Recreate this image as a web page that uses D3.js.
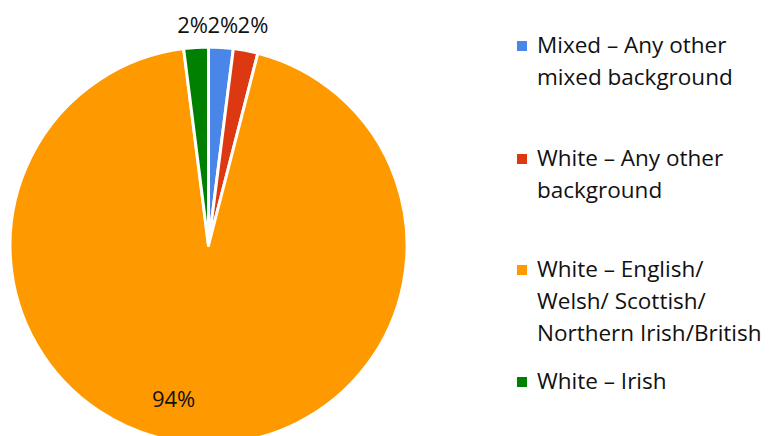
<!DOCTYPE html>
<html>
<head>
<meta charset="utf-8">
<script src="https://cdn.jsdelivr.net/npm/d3@7"></script>
<style>
  html, body { margin: 0; padding: 0; background: #fff; }
  svg { display: block; }
  text { font-family: "Open Sans", Lato, sans-serif; fill: #111; }
</style>
</head>
<body>
<svg id="chart" width="771" height="436"></svg>
<script>
// Ethnicity breakdown (percent of respondents)
const categories = [
  "Mixed – Any other mixed background",
  "White – Any other background",
  "White – English/ Welsh/ Scottish/ Northern Irish/British",
  "White – Irish"
];
const values = [2, 2, 94, 2];
const colors = ["#4a86e8", "#dc3912", "#ff9900", "#008000"];
// Legend text, broken into lines as wrapped in the legend column
const legendLines = [
  ["Mixed – Any other", "mixed background"],
  ["White – Any other", "background"],
  ["White – English/", "Welsh/ Scottish/", "Northern Irish/British"],
  ["White – Irish"]
];

const svg = d3.select("#chart");
const cx = 208.5, cy = 245.5, radius = 198.5;

const pie = d3.pie().sort(null).value(d => d)(values);
const arc = d3.arc().innerRadius(0).outerRadius(radius);

const g = svg.append("g").attr("transform", `translate(${cx},${cy})`);

g.selectAll("path.slice")
  .data(pie)
  .join("path")
  .attr("class", "slice")
  .attr("d", arc)
  .attr("fill", (d, i) => colors[i])
  .attr("stroke", "#fff")
  .attr("stroke-width", 3)
  .attr("stroke-linejoin", "round");

// Percent labels: small slices labelled above the pie, large slice inside
const fmt = v => Math.round(v) + "%";
const total = d3.sum(values);
const labelX = d3.scalePoint().domain([3, 0, 1]).range([-16, 44.5]);

pie.forEach((d, i) => {
  const pct = fmt(d.data / total * 100);
  if (d.data / total < 0.1) {
    g.append("text")
      .attr("x", labelX(i))
      .attr("y", -radius - 14.5)
      .attr("text-anchor", "middle")
      .attr("font-size", 22)
      .text(pct);
  } else {
    const a = 192.7 * Math.PI / 180;
    const rr = radius * 0.8;
    g.append("text")
      .attr("x", rr * Math.sin(a))
      .attr("y", -rr * Math.cos(a) + 7)
      .attr("text-anchor", "middle")
      .attr("font-size", 22)
      .text(pct);
  }
});

// Legend
const legendTop = [53, 166, 277, 389];
const lineH = 32;
const legend = svg.append("g");
categories.forEach((c, i) => {
  const item = legend.append("g").attr("transform", `translate(0,${legendTop[i]})`);
  item.append("rect")
    .attr("x", 517).attr("y", -12)
    .attr("width", 10).attr("height", 10)
    .attr("fill", colors[i]);
  item.append("text")
    .attr("x", 537)
    .attr("font-size", 22.5)
    .selectAll("tspan")
    .data(legendLines[i])
    .join("tspan")
    .attr("x", 537)
    .attr("dy", (d, j) => j === 0 ? 0 : lineH)
    .text(d => d);
});
</script>
</body>
</html>
